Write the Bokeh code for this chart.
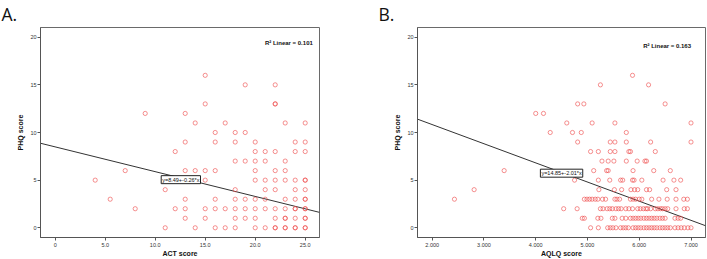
from bokeh.plotting import figure
from bokeh.layouts import row
from bokeh.models import Label, FixedTicker
from bokeh.embed import file_html
from bokeh.resources import INLINE

# ---- Panel A: ACT score vs PHQ score ----
act_x = [15,
         19, 22,
         15, 22, 22,
         9, 13,
         14, 17, 23, 25,
         16, 18, 19,
         13, 16, 18, 20, 24, 25,
         12, 20, 21, 22, 24, 25,
         18, 19, 20, 21, 23,
         7, 13, 14, 15, 16, 20, 22, 23,
         4, 15, 20, 21, 22, 23, 24, 25, 25,
         11, 18, 21, 22, 24, 25,
         5.5, 13, 16, 18, 19, 20, 21, 23, 24, 25, 25,
         8, 12, 13, 15, 16, 17, 18, 19, 20, 21, 22, 23, 24, 25, 24, 25,
         13, 15, 18, 19, 20, 22, 23, 24, 25, 23, 25,
         11, 14, 16, 17, 18, 20, 21, 22, 23, 24, 25, 22, 23, 24, 25]
act_phq = [16,
           15, 15,
           13, 13, 13,
           12, 12,
           11, 11, 11, 11,
           10, 10, 10,
           9, 9, 9, 9, 9, 9,
           8, 8, 8, 8, 8, 8,
           7, 7, 7, 7, 7,
           6, 6, 6, 6, 6, 6, 6, 6,
           5, 5, 5, 5, 5, 5, 5, 5, 5,
           4, 4, 4, 4, 4, 4,
           3, 3, 3, 3, 3, 3, 3, 3, 3, 3, 3,
           2, 2, 2, 2, 2, 2, 2, 2, 2, 2, 2, 2, 2, 2, 2, 2,
           1, 1, 1, 1, 1, 1, 1, 1, 1, 1, 1,
           0, 0, 0, 0, 0, 0, 0, 0, 0, 0, 0, 0, 0, 0, 0]
act_fit = (8.49, -0.26)          # intercept, slope
act_r2 = "0.101"
act_ticks = [0, 5, 10, 15, 20, 25]
act_tick_labels = ["0", "5.0", "10.0", "15.0", "20.0", "25.0"]

# ---- Panel B: AQLQ score vs PHQ score ----
aqlq_rows = {
    16: [5.87],
    15: [5.25, 6.18],
    13: [4.81, 4.93, 6.50],
    12: [4.00, 4.15],
    11: [4.60, 5.09, 5.53, 7.00],
    10: [4.28, 4.71, 4.88, 5.75],
    9: [4.81, 5.44, 5.53, 5.75, 6.22, 7.00],
    8: [5.06, 5.21, 5.44, 5.53, 5.80, 5.83, 6.31],
    7: [5.28, 5.40, 5.51, 5.75, 5.96, 6.11, 6.14],
    6: [3.39, 5.12, 5.37, 5.40, 5.88, 6.28, 6.60],
    5: [4.75, 5.21, 5.43, 5.64, 5.68, 5.87, 5.90, 6.05, 6.46, 6.67, 6.80],
    4: [2.81, 5.22, 5.52, 5.66, 5.84, 5.91, 5.97, 6.14, 6.20, 6.53, 6.71],
    3: [2.43, 4.94, 4.99, 5.04, 5.09, 5.15, 5.20, 5.29, 5.35, 5.53, 5.57,
        5.62, 5.83, 5.88, 5.93, 6.00, 6.05, 6.24, 6.38, 6.54, 6.71, 6.86, 6.93],
    2: [4.54, 4.80, 5.25, 5.30, 5.38, 5.43, 5.48, 5.55, 5.60, 5.65, 5.74,
        5.80, 5.87, 5.97, 6.02, 6.08, 6.13, 6.16, 6.22, 6.31, 6.36, 6.41,
        6.45, 6.50, 6.55, 6.71, 6.87, 6.93],
    1: [4.90, 4.94, 5.20, 5.26, 5.48, 5.53, 5.67, 5.74, 5.83, 5.88, 5.93,
        5.98, 6.03, 6.09, 6.14, 6.19, 6.24, 6.29, 6.34, 6.40, 6.45, 6.50,
        6.69, 6.75, 6.80],
    0: [5.06, 5.21, 5.39, 5.44, 5.49, 5.55, 5.64, 5.69, 5.74, 5.79, 5.88,
        5.93, 5.98, 6.03, 6.09, 6.14, 6.19, 6.24, 6.29, 6.34, 6.40, 6.45,
        6.50, 6.55, 6.60, 6.69, 6.75, 6.81, 6.87, 6.94, 7.00],
}
aqlq_x = [v for k, vals in aqlq_rows.items() for v in vals]
aqlq_phq = [k for k, vals in aqlq_rows.items() for v in vals]
aqlq_fit = (14.85, -2.01)
aqlq_r2 = "0.163"
aqlq_ticks = [2, 3, 4, 5, 6, 7]
aqlq_tick_labels = ["2.000", "3.000", "4.000", "5.000", "6.000", "7.000"]

phq_ticks = [0, 5, 10, 15, 20]
phq_tick_labels = ["0", "5", "10", "15", "20"]

FONT = "Liberation Sans"
POINT_COLOR = "#ee4848"


def make_panel(letter, xs, ys, fit, r2, x_range, xticks, xlabels, xname,
               width, border_left, border_right, fit_label_pos, r2_pos):
    p = figure(width=width, height=259, x_range=x_range, y_range=(-1.02, 21.02),
               output_backend="svg", toolbar_location=None,
               min_border_left=border_left, min_border_right=border_right,
               min_border_top=27, min_border_bottom=22)
    p.background_fill_color = "white"
    p.border_fill_color = "white"
    p.outline_line_color = "#6a6a6a"
    p.xgrid.visible = False
    p.ygrid.visible = False

    # panel letter as a left-shifted title
    p.title.text = letter
    p.title.text_font = "Open Sans"
    p.title.text_font_size = "17.5px"
    p.title.text_font_style = "normal"
    p.title.text_color = "#111111"
    p.title.align = "left"
    p.title.vertical_align = "top"
    p.title.offset = -39
    p.title.standoff = 0

    for ax in (p.xaxis[0], p.yaxis[0]):
        ax.axis_line_color = "#555555"
        ax.major_tick_line_color = "#555555"
        ax.major_tick_out = 3
        ax.major_tick_in = 0
        ax.minor_tick_line_color = None
        ax.major_label_text_font = FONT
        ax.major_label_text_font_size = "5.5px"
        ax.major_label_text_color = "#333333"
        ax.axis_label_text_font = FONT
        ax.axis_label_text_font_size = "7px"
        ax.axis_label_text_font_style = "bold"
        ax.axis_label_text_color = "#111111"

    p.xaxis.ticker = FixedTicker(ticks=xticks)
    p.xaxis.major_label_overrides = dict(zip(xticks, xlabels))
    p.xaxis.axis_label = xname
    p.xaxis.major_label_standoff = 2
    p.xaxis.axis_label_standoff = 0

    p.yaxis.ticker = FixedTicker(ticks=phq_ticks)
    p.yaxis.major_label_overrides = dict(zip(phq_ticks, phq_tick_labels))
    p.yaxis.axis_label = "PHQ score"
    p.yaxis.major_label_standoff = 1
    p.yaxis.axis_label_standoff = 3

    # fit line across the whole frame
    x0, x1 = x_range
    a, b = fit
    p.line([x0, x1], [a + b * x0, a + b * x1], line_color="#333333", line_width=1)

    p.scatter(xs, ys, marker="circle", size=4.2, fill_color=None,
              line_color=POINT_COLOR, line_alpha=0.6, line_width=1)

    p.add_layout(Label(x=fit_label_pos[0], y=fit_label_pos[1],
                       text=f"y={a:.2f}+{b:.2f}*x",
                       text_font=FONT, text_font_size="5.5px",
                       text_align="left", text_baseline="middle",
                       text_color="#111111",
                       background_fill_color="white",
                       border_line_color="#222222", border_line_width=1,
                       padding=1))

    p.add_layout(Label(x=r2_pos[0], y=r2_pos[1], text=f"R\u00b2 Linear = {r2}",
                       text_font=FONT, text_font_size="6px",
                       text_font_style="bold", text_color="#111111",
                       text_align="right", text_baseline="middle"))
    return p


pA = make_panel("A.", act_x, act_phq, act_fit, act_r2, (-1.47, 26.43),
                act_ticks, act_tick_labels, "ACT score",
                width=354, border_left=40, border_right=35,
                fit_label_pos=(10.6, 5.05), r2_pos=(25.76, 19.4))

pB = make_panel("B.", aqlq_x, aqlq_phq, aqlq_fit, aqlq_r2, (1.716, 7.28),
                aqlq_ticks, aqlq_tick_labels, "AQLQ score",
                width=353, border_left=63, border_right=2,
                fit_label_pos=(4.09, 5.73), r2_pos=(7.0, 19.1))

layout = row(pA, pB)
open("out.html", "w").write(file_html(layout, INLINE))
